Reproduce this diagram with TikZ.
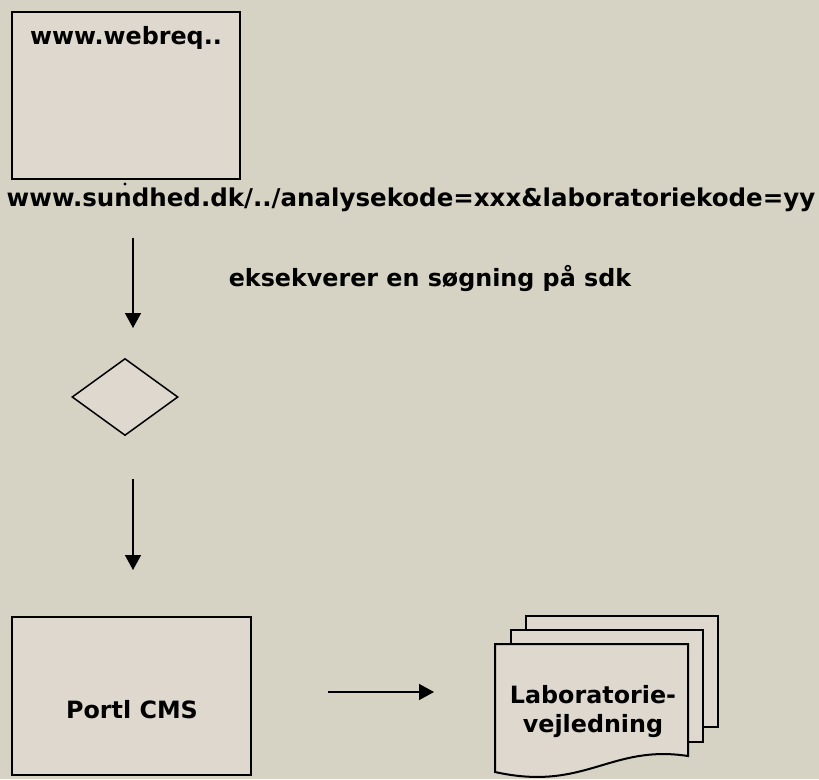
\documentclass[tikz,border=0pt]{standalone}
\usepackage{fontspec}
\setmainfont{DejaVu Sans}
\usetikzlibrary{arrows.meta,positioning,shapes.geometric}
\definecolor{baggrund}{RGB}{214,211,196}
\definecolor{boksfarve}{RGB}{222,216,206}
\tikzset{
>={Triangle[length=15pt,width=16pt]},
  boks/.style={
    rectangle,
    draw=black, line width=2pt,
    fill=boksfarve,
    inner sep=0pt},
  tekst/.style={
    font=\fontsize{23.8}{29}\selectfont\bfseries,
    inner sep=0pt,
    align=center},
  beslut/.style={
    diamond,
    draw=black, line width=1.5pt,
    fill=boksfarve,
    inner sep=0pt,
    minimum width=106pt,
    minimum height=77pt},
  pil/.style={draw, line width=1.5pt, ->},
  side/.style={draw=black, line width=2pt, fill=boksfarve},
}

\begin{document}
\begin{tikzpicture}[x=1pt,y=-1pt]
  % baggrund og ramme
  \fill[baggrund] (0,0) rectangle (819,779);
  \useasboundingbox (0,0) rectangle (819,779);
  % webreq-boksen
  \node[boks, anchor=north west, minimum width=228pt, minimum height=167pt]
      (webreq) at (11,11) {};
  \node[tekst, below=15pt of webreq.north] (webreqtxt) {www.webreq..};
  \node[circle, fill=black, inner sep=1.2pt] (prik) at (125,184) {};
  \node[tekst, font=\fontsize{24.5}{29}\selectfont\bfseries] (url) at (411,200)
      {www.sundhed.dk/../analysekode=xxx\&laboratoriekode=yy};
  % soegning
  \coordinate (p1a) at (133,238);
  \coordinate (p1b) at (133,328);
  \draw[pil] (p1a) -- (p1b);
  \node[tekst] (soeg) at (430,278) {eksekverer en søgning på sdk};
  \node[beslut] (valg) at (125,397) {};
  \coordinate (p2a) at (133,479);
  \coordinate (p2b) at (133,570);
  \draw[pil] (p2a) -- (p2b);
  % portal
  \node[boks, anchor=north west, minimum width=239pt, minimum height=158pt]
      (portl) at (11,616) {};
  \node[tekst] (portltxt) at (132,710) {Portl CMS};
  \coordinate (p3a) at (328,692);
  \coordinate (p3b) at (434,692);
  \draw[pil] (p3a) -- (p3b);
  % dokumentstakken
  \draw[side] (526,616) rectangle (718,727);
  \draw[side] (511,630) rectangle (703,742);
  \draw[side] (495,644) -- (688,644) -- (688,756)
      .. controls (610,744) and (585,792) .. (495,772) -- cycle;
  \node[tekst] (lab) at (593,712) {Laboratorie-\\vejledning};
\end{tikzpicture}
\end{document}
